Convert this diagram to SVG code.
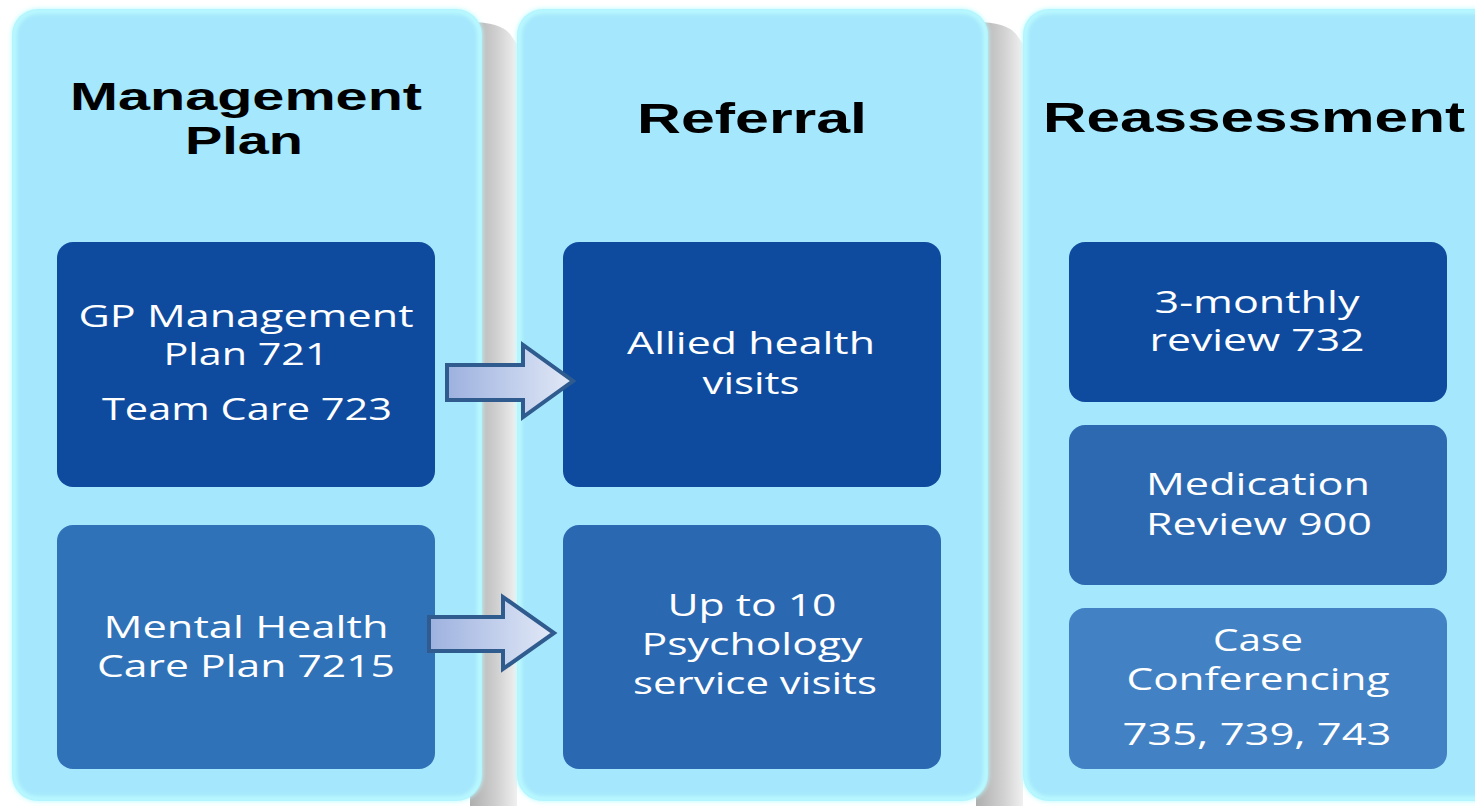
<svg xmlns="http://www.w3.org/2000/svg" width="1475" height="806" viewBox="0 0 1475 806">
<defs>
<linearGradient id="shadow" x1="0" y1="0" x2="1" y2="0">
<stop offset="0" stop-color="#aeaeae"/>
<stop offset="0.6" stop-color="#d2d2d2"/>
<stop offset="1" stop-color="#f0f0f0"/>
</linearGradient>
<linearGradient id="arrowFill" x1="0" y1="0" x2="1" y2="0">
<stop offset="0" stop-color="#9db1df"/>
<stop offset="1" stop-color="#e2e9f7"/>
</linearGradient>
<filter id="glow" x="-5%" y="-5%" width="110%" height="110%">
<feGaussianBlur stdDeviation="2"/>
</filter>
<style>
.col{fill:#a5e7fc;}
.colEdge{fill:none;stroke:#bdfcff;stroke-width:5;}
.shadow{fill:url(#shadow);}
.title{font-family:"Liberation Sans",Arial,sans-serif;font-weight:bold;fill:#000;text-anchor:middle;}
.lbl{font-family:"Open Sans","DejaVu Sans",sans-serif;font-size:31px;fill:#fff;text-anchor:middle;}
.dark{fill:#0e4b9f;}
.arrow{fill:url(#arrowFill);stroke:#2f5b8e;stroke-width:4;stroke-linejoin:miter;}
</style>
</defs>
<rect width="1475" height="806" fill="#ffffff"/>

<g id="col-management">
<path class="shadow" d="M470 22 Q500 22 510 34 L517 44 L517 806 L470 806 Z"/>
<rect class="col" x="12" y="9" width="470" height="792" rx="26"/>
<rect class="colEdge" x="14" y="11" width="466" height="788" rx="24" filter="url(#glow)"/>
<rect class="col" x="20" y="18" width="454" height="774" rx="20"/>
<text class="title" font-size="39" x="246" y="110" textLength="352" lengthAdjust="spacingAndGlyphs">Management</text>
<text class="title" font-size="39" x="244" y="154" textLength="118" lengthAdjust="spacingAndGlyphs">Plan</text>
</g>

<g id="col-referral">
<path class="shadow" d="M976 22 Q1006 22 1016 34 L1023 44 L1023 806 L976 806 Z"/>
<rect class="col" x="517" y="9" width="471" height="792" rx="26"/>
<rect class="colEdge" x="519" y="11" width="467" height="788" rx="24" filter="url(#glow)"/>
<rect class="col" x="525" y="18" width="455" height="774" rx="20"/>
<text class="title" font-size="43" x="752" y="133" textLength="230" lengthAdjust="spacingAndGlyphs">Referral</text>
</g>

<g id="col-reassessment">
<rect class="col" x="1023" y="9" width="480" height="792" rx="26"/>
<rect class="colEdge" x="1025" y="11" width="476" height="788" rx="24" filter="url(#glow)"/>
<rect class="col" x="1031" y="18" width="464" height="774" rx="20"/>
<text class="title" font-size="42" x="1254" y="132" textLength="422" lengthAdjust="spacingAndGlyphs">Reassessment</text>
</g>

<g id="node-gp">
<rect class="dark" x="57" y="242" width="378" height="245" rx="16"/>
<text class="lbl" x="246" y="327" textLength="335" lengthAdjust="spacingAndGlyphs">GP Management</text>
<text class="lbl" x="246" y="365" textLength="165" lengthAdjust="spacingAndGlyphs">Plan 721</text>
<text class="lbl" x="247" y="420" textLength="290" lengthAdjust="spacingAndGlyphs">Team Care 723</text>
</g>

<g id="node-mental">
<rect x="57" y="525" width="378" height="244" rx="16" fill="#3072b8"/>
<text class="lbl" x="246" y="638" textLength="285" lengthAdjust="spacingAndGlyphs">Mental Health</text>
<text class="lbl" x="246" y="677" textLength="298" lengthAdjust="spacingAndGlyphs">Care Plan 7215</text>
</g>

<g id="node-allied">
<rect class="dark" x="563" y="242" width="378" height="245" rx="16"/>
<text class="lbl" x="751" y="354" textLength="248" lengthAdjust="spacingAndGlyphs">Allied health</text>
<text class="lbl" x="751" y="394" textLength="97" lengthAdjust="spacingAndGlyphs">visits</text>
</g>

<g id="node-psych">
<rect x="563" y="525" width="378" height="244" rx="16" fill="#2a68b1"/>
<text class="lbl" x="752" y="616" textLength="169" lengthAdjust="spacingAndGlyphs">Up to 10</text>
<text class="lbl" x="752" y="655" textLength="221" lengthAdjust="spacingAndGlyphs">Psychology</text>
<text class="lbl" x="755" y="694" textLength="244" lengthAdjust="spacingAndGlyphs">service visits</text>
</g>

<g id="node-3monthly">
<rect class="dark" x="1069" y="242" width="378" height="160" rx="16"/>
<text class="lbl" x="1257" y="313" textLength="205" lengthAdjust="spacingAndGlyphs">3-monthly</text>
<text class="lbl" x="1257" y="351" textLength="215" lengthAdjust="spacingAndGlyphs">review 732</text>
</g>

<g id="node-medication">
<rect x="1069" y="425" width="378" height="160" rx="16" fill="#2c69b1"/>
<text class="lbl" x="1258" y="495" textLength="224" lengthAdjust="spacingAndGlyphs">Medication</text>
<text class="lbl" x="1259" y="535" textLength="226" lengthAdjust="spacingAndGlyphs">Review 900</text>
</g>

<g id="node-case">
<rect x="1069" y="608" width="378" height="161" rx="16" fill="#4282c4"/>
<text class="lbl" x="1258" y="651" textLength="90" lengthAdjust="spacingAndGlyphs">Case</text>
<text class="lbl" x="1258" y="690" textLength="263" lengthAdjust="spacingAndGlyphs">Conferencing</text>
<text class="lbl" x="1257" y="745" textLength="269" lengthAdjust="spacingAndGlyphs">735, 739, 743</text>
</g>

<g id="connectors">
<path class="arrow" d="M447 365 L523 365 L523 345 L573 381 L523 417 L523 400 L447 400 Z"/>
<path class="arrow" d="M429 617 L503 617 L503 597 L554 633 L503 669 L503 651 L429 651 Z"/>
</g>
</svg>
